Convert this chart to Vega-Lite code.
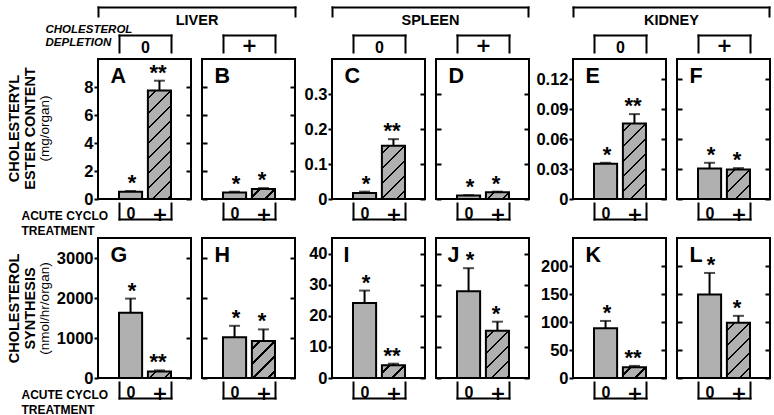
{
"$schema": "https://vega.github.io/schema/vega-lite/v6.json",
"padding": {"left": 5, "top": 4, "right": 4, "bottom": 2},
"bounds": "flush",
"columns": 8,
"spacing": {"row": 39, "column": 11},
"config": {
  "font": "Liberation Sans",
  "view": {"stroke": "black", "strokeWidth": 2},
  "axis": {"domain": false, "grid": false, "labelFont": "Liberation Sans", "labelFontWeight": "bold", "labelFontSize": 16, "labelColor": "black", "tickColor": "black", "tickWidth": 2, "domainColor": "black", "domainWidth": 2, "titleFont": "Liberation Sans", "titleFontWeight": "bold", "titleColor": "black", "titleFontSize": 14.5},
  "axisLeft": {"labelFontWeight": "bold", "labelFontSize": 16.5}
},
"concat": [
{
  "width": 93, "height": 140,
  "data": {"values": [{"cyclo": "0", "value": 0.52, "err": 0.57, "sig": "*"}, {"cyclo": "+", "value": 7.75, "err": 8.45, "sig": "**"}]},
  "resolve": {"scale": {"x": "independent", "y": "independent"}},
  "layer": [
    {"mark": {"type": "bar", "stroke": "black", "strokeWidth": 2},
     "encoding": {
       "x": {"field": "cyclo", "type": "nominal", "scale": {"domain": ["0", "+"], "range": [21, 73], "paddingInner": 0.2, "paddingOuter": 0},
             "axis": {"orient": "bottom", "offset": 20, "domain": true, "domainCap": "square", "tickBand": "extent", "tickSize": -16, "tickCap": "square", "tickOpacity": {"condition": {"test": "datum.index === 0", "value": 0}, "value": 1}, "labelAngle": 0, "labelFontSize": {"condition": {"test": "datum.value === '+'", "value": 19}, "value": 16}, "labelFont": {"condition": {"test": "datum.value === '+'", "value": "DejaVu Sans"}, "value": "Liberation Sans"}, "labelPadding": 2,
                      "title": ["ACUTE CYCLO", "TREATMENT"], "titleFontSize": 12, "titleX": -77, "titleY": 0, "titleAlign": "left", "titleBaseline": "alphabetic", "titleLineHeight": 15, "titleAngle": 0}},
       "y": {"field": "value", "type": "quantitative", "scale": {"domain": [0, 10], "nice": false},
             "axis": {"orient": "left", "values": [0, 2, 4, 6, 8], "format": "~r", "tickSize": 4, "labelPadding": 1,
                      "title": ["CHOLESTERYL", "ESTER CONTENT"], "titleX": -80, "titleY": 69, "titleAlign": "center", "titleBaseline": "alphabetic", "titleLineHeight": 16.5, "titleAngle": -90}},
       "fill": {"condition": {"test": "datum.cyclo === '+'", "value": {"gradient": "linear", "x1": 0, "y1": 0, "x2": 0.2472, "y2": 1.1603, "stops": [
         {"offset": 0, "color": "#b0b0b0"},
         {"offset": 0.0517, "color": "#b0b0b0"}, {"offset": 0.0517, "color": "black"}, {"offset": 0.0699, "color": "black"}, {"offset": 0.0699, "color": "#b0b0b0"},
         {"offset": 0.1657, "color": "#b0b0b0"}, {"offset": 0.1657, "color": "black"}, {"offset": 0.1839, "color": "black"}, {"offset": 0.1839, "color": "#b0b0b0"},
         {"offset": 0.2796, "color": "#b0b0b0"}, {"offset": 0.2796, "color": "black"}, {"offset": 0.2978, "color": "black"}, {"offset": 0.2978, "color": "#b0b0b0"},
         {"offset": 0.3936, "color": "#b0b0b0"}, {"offset": 0.3936, "color": "black"}, {"offset": 0.4118, "color": "black"}, {"offset": 0.4118, "color": "#b0b0b0"},
         {"offset": 0.5076, "color": "#b0b0b0"}, {"offset": 0.5076, "color": "black"}, {"offset": 0.5258, "color": "black"}, {"offset": 0.5258, "color": "#b0b0b0"},
         {"offset": 0.6215, "color": "#b0b0b0"}, {"offset": 0.6215, "color": "black"}, {"offset": 0.6397, "color": "black"}, {"offset": 0.6397, "color": "#b0b0b0"},
         {"offset": 0.7355, "color": "#b0b0b0"}, {"offset": 0.7355, "color": "black"}, {"offset": 0.7537, "color": "black"}, {"offset": 0.7537, "color": "#b0b0b0"},
         {"offset": 0.8495, "color": "#b0b0b0"}, {"offset": 0.8495, "color": "black"}, {"offset": 0.8677, "color": "black"}, {"offset": 0.8677, "color": "#b0b0b0"},
         {"offset": 0.9635, "color": "#b0b0b0"}, {"offset": 0.9635, "color": "black"}, {"offset": 0.9817, "color": "black"}, {"offset": 0.9817, "color": "#b0b0b0"},
         {"offset": 1, "color": "#b0b0b0"}]}}, "value": "#b0b0b0"}
     }},
    {"encoding": {
       "x": {"field": "cyclo", "type": "nominal", "scale": {"domain": ["0", "+"], "range": [21, 73], "paddingInner": 0.2, "paddingOuter": 0},
             "axis": {"orient": "top", "offset": 24, "domain": true, "domainCap": "square", "tickBand": "extent", "tickSize": -17, "tickCap": "square", "tickOpacity": {"condition": {"test": "datum.index === 0", "value": 0}, "value": 1}, "labels": false,
                      "title": "0", "titleFontSize": 16, "titleX": 47, "titleY": 17, "titleAlign": "center", "titleBaseline": "alphabetic", "titleAngle": 0}},
       "y": {"field": "err", "type": "quantitative", "scale": {"domain": [0, 10], "nice": false},
             "axis": {"orient": "right", "values": [0, 2, 4, 6, 8], "labels": false, "tickSize": -5,
                      "title": ["CHOLESTEROL", "DEPLETION"], "titleFontSize": 11.5, "titleFontStyle": "italic", "titleX": -146, "titleY": -27, "titleAlign": "left", "titleBaseline": "alphabetic", "titleLineHeight": 13.5, "titleAngle": 0}}},
     "layer": [
       {"mark": {"type": "rule", "color": "black", "strokeWidth": 2}, "encoding": {"y2": {"field": "value"}}},
       {"mark": {"type": "tick", "color": "black", "thickness": 2, "size": 11}}
     ]},
    {"mark": {"type": "text", "font": "Liberation Sans", "fontSize": 22, "fontWeight": "bold", "baseline": "alphabetic", "dy": -1, "color": "black"},
     "encoding": {
       "x": {"field": "cyclo", "type": "nominal", "scale": {"domain": ["0", "+"], "range": [21, 73], "paddingInner": 0.2, "paddingOuter": 0},
             "axis": {"orient": "top", "labels": false, "ticks": false, "domain": false, "title": "A", "titleFontSize": 21.5, "titleX": 12, "titleY": 23, "titleAlign": "left", "titleBaseline": "alphabetic", "titleAngle": 0}},
       "y": {"field": "err", "type": "quantitative", "scale": {"domain": [0, 10], "nice": false},
             "axis": {"orient": "left", "labels": false, "ticks": false, "domain": false, "title": "(mg/organ)", "titleFontWeight": "normal", "titleFontSize": 13.5, "titleX": -50, "titleY": 69, "titleAlign": "center", "titleBaseline": "alphabetic", "titleAngle": -90}},
       "text": {"field": "sig"}}},
    {"data": {"values": [{"organ": "LIVER"}]},
     "mark": {"type": "point", "opacity": 0},
     "encoding": {"x": {"field": "organ", "type": "nominal", "scale": {"domain": ["LIVER"], "range": [0, 197], "paddingInner": 0, "paddingOuter": 0},
       "axis": {"orient": "top", "offset": 52, "domain": true, "domainCap": "square", "tickBand": "extent", "tickSize": -9, "tickCap": "square", "labels": false, "title": "LIVER", "titleFontSize": 14.5, "titleX": 98.5, "titleY": 17.5, "titleAlign": "center", "titleBaseline": "alphabetic", "titleAngle": 0}}}}
  ]
},
{
  "width": 93, "height": 140,
  "data": {"values": [{"cyclo": "0", "value": 0.47, "err": 0.52, "sig": "*"}, {"cyclo": "+", "value": 0.72, "err": 0.78, "sig": "*"}]},
  "resolve": {"scale": {"x": "independent", "y": "independent"}},
  "layer": [
    {"mark": {"type": "bar", "stroke": "black", "strokeWidth": 2},
     "encoding": {
       "x": {"field": "cyclo", "type": "nominal", "scale": {"domain": ["0", "+"], "range": [21, 73], "paddingInner": 0.2, "paddingOuter": 0},
             "axis": {"orient": "bottom", "offset": 20, "domain": true, "domainCap": "square", "tickBand": "extent", "tickSize": -16, "tickCap": "square", "tickOpacity": {"condition": {"test": "datum.index === 0", "value": 0}, "value": 1}, "labelAngle": 0, "labelFontSize": {"condition": {"test": "datum.value === '+'", "value": 19}, "value": 16}, "labelFont": {"condition": {"test": "datum.value === '+'", "value": "DejaVu Sans"}, "value": "Liberation Sans"}, "labelPadding": 2, "title": null}},
       "y": {"field": "value", "type": "quantitative", "scale": {"domain": [0, 10], "nice": false},
             "axis": {"orient": "left", "values": [0, 2, 4, 6, 8], "labels": false, "tickSize": -5, "title": null}},
       "fill": {"condition": {"test": "datum.cyclo === '+'", "value": {"gradient": "linear", "x1": 0, "y1": 0, "x2": 1.2066, "y2": 0.5263, "stops": [
         {"offset": 0, "color": "#b0b0b0"},
         {"offset": 0.2048, "color": "#b0b0b0"}, {"offset": 0.2048, "color": "black"}, {"offset": 0.2772, "color": "black"}, {"offset": 0.2772, "color": "#b0b0b0"},
         {"offset": 0.6568, "color": "#b0b0b0"}, {"offset": 0.6568, "color": "black"}, {"offset": 0.7292, "color": "black"}, {"offset": 0.7292, "color": "#b0b0b0"},
         {"offset": 1, "color": "#b0b0b0"}]}}, "value": "#b0b0b0"}
     }},
    {"encoding": {
       "x": {"field": "cyclo", "type": "nominal", "scale": {"domain": ["0", "+"], "range": [21, 73], "paddingInner": 0.2, "paddingOuter": 0},
             "axis": {"orient": "top", "offset": 24, "domain": true, "domainCap": "square", "tickBand": "extent", "tickSize": -17, "tickCap": "square", "tickOpacity": {"condition": {"test": "datum.index === 0", "value": 0}, "value": 1}, "labels": false,
                      "title": "+", "titleFont": "DejaVu Sans", "titleFontSize": 19, "titleX": 47, "titleY": 16, "titleAlign": "center", "titleBaseline": "alphabetic", "titleAngle": 0}},
       "y": {"field": "err", "type": "quantitative", "scale": {"domain": [0, 10], "nice": false},
             "axis": {"orient": "right", "values": [0, 2, 4, 6, 8], "labels": false, "tickSize": -5, "title": null}}},
     "layer": [
       {"mark": {"type": "rule", "color": "black", "strokeWidth": 2}, "encoding": {"y2": {"field": "value"}}},
       {"mark": {"type": "tick", "color": "black", "thickness": 2, "size": 11}}
     ]},
    {"mark": {"type": "text", "font": "Liberation Sans", "fontSize": 22, "fontWeight": "bold", "baseline": "alphabetic", "dy": -1, "color": "black"},
     "encoding": {
       "x": {"field": "cyclo", "type": "nominal", "scale": {"domain": ["0", "+"], "range": [21, 73], "paddingInner": 0.2, "paddingOuter": 0},
             "axis": {"orient": "top", "labels": false, "ticks": false, "domain": false, "title": "B", "titleFontSize": 21.5, "titleX": 12, "titleY": 23, "titleAlign": "left", "titleBaseline": "alphabetic", "titleAngle": 0}},
       "y": {"field": "err", "type": "quantitative", "scale": {"domain": [0, 10], "nice": false}, "axis": null},
       "text": {"field": "sig"}}}
  ]
},
{"width": 15, "height": 140, "data": {"values": [{}]}, "mark": {"type": "point", "opacity": 0}, "view": {"stroke": null}},
{
  "width": 93, "height": 140,
  "data": {"values": [{"cyclo": "0", "value": 0.017, "err": 0.021, "sig": "*"}, {"cyclo": "+", "value": 0.152, "err": 0.171, "sig": "**"}]},
  "resolve": {"scale": {"x": "independent", "y": "independent"}},
  "layer": [
    {"mark": {"type": "bar", "stroke": "black", "strokeWidth": 2},
     "encoding": {
       "x": {"field": "cyclo", "type": "nominal", "scale": {"domain": ["0", "+"], "range": [21, 73], "paddingInner": 0.2, "paddingOuter": 0},
             "axis": {"orient": "bottom", "offset": 20, "domain": true, "domainCap": "square", "tickBand": "extent", "tickSize": -16, "tickCap": "square", "tickOpacity": {"condition": {"test": "datum.index === 0", "value": 0}, "value": 1}, "labelAngle": 0, "labelFontSize": {"condition": {"test": "datum.value === '+'", "value": 19}, "value": 16}, "labelFont": {"condition": {"test": "datum.value === '+'", "value": "DejaVu Sans"}, "value": "Liberation Sans"}, "labelPadding": 2, "title": null}},
       "y": {"field": "value", "type": "quantitative", "scale": {"domain": [0, 0.4], "nice": false},
             "axis": {"orient": "left", "values": [0, 0.1, 0.2, 0.3], "format": "~r", "tickSize": 4, "labelPadding": 1, "title": null}},
       "fill": {"condition": {"test": "datum.cyclo === '+'", "value": {"gradient": "linear", "x1": 0, "y1": 0, "x2": 0.5242, "y2": 1.2067, "stops": [
         {"offset": 0, "color": "#b0b0b0"},
         {"offset": 0.0891, "color": "#b0b0b0"}, {"offset": 0.0891, "color": "black"}, {"offset": 0.1205, "color": "black"}, {"offset": 0.1205, "color": "#b0b0b0"},
         {"offset": 0.2857, "color": "#b0b0b0"}, {"offset": 0.2857, "color": "black"}, {"offset": 0.3171, "color": "black"}, {"offset": 0.3171, "color": "#b0b0b0"},
         {"offset": 0.4823, "color": "#b0b0b0"}, {"offset": 0.4823, "color": "black"}, {"offset": 0.5137, "color": "black"}, {"offset": 0.5137, "color": "#b0b0b0"},
         {"offset": 0.6788, "color": "#b0b0b0"}, {"offset": 0.6788, "color": "black"}, {"offset": 0.7102, "color": "black"}, {"offset": 0.7102, "color": "#b0b0b0"},
         {"offset": 0.8754, "color": "#b0b0b0"}, {"offset": 0.8754, "color": "black"}, {"offset": 0.9068, "color": "black"}, {"offset": 0.9068, "color": "#b0b0b0"},
         {"offset": 1, "color": "#b0b0b0"}]}}, "value": "#b0b0b0"}
     }},
    {"encoding": {
       "x": {"field": "cyclo", "type": "nominal", "scale": {"domain": ["0", "+"], "range": [21, 73], "paddingInner": 0.2, "paddingOuter": 0},
             "axis": {"orient": "top", "offset": 24, "domain": true, "domainCap": "square", "tickBand": "extent", "tickSize": -17, "tickCap": "square", "tickOpacity": {"condition": {"test": "datum.index === 0", "value": 0}, "value": 1}, "labels": false,
                      "title": "0", "titleFontSize": 16, "titleX": 47, "titleY": 17, "titleAlign": "center", "titleBaseline": "alphabetic", "titleAngle": 0}},
       "y": {"field": "err", "type": "quantitative", "scale": {"domain": [0, 0.4], "nice": false},
             "axis": {"orient": "right", "values": [0, 0.1, 0.2, 0.3], "labels": false, "tickSize": -5, "title": null}}},
     "layer": [
       {"mark": {"type": "rule", "color": "black", "strokeWidth": 2}, "encoding": {"y2": {"field": "value"}}},
       {"mark": {"type": "tick", "color": "black", "thickness": 2, "size": 11}}
     ]},
    {"mark": {"type": "text", "font": "Liberation Sans", "fontSize": 22, "fontWeight": "bold", "baseline": "alphabetic", "dy": -1, "color": "black"},
     "encoding": {
       "x": {"field": "cyclo", "type": "nominal", "scale": {"domain": ["0", "+"], "range": [21, 73], "paddingInner": 0.2, "paddingOuter": 0},
             "axis": {"orient": "top", "labels": false, "ticks": false, "domain": false, "title": "C", "titleFontSize": 21.5, "titleX": 12, "titleY": 23, "titleAlign": "left", "titleBaseline": "alphabetic", "titleAngle": 0}},
       "y": {"field": "err", "type": "quantitative", "scale": {"domain": [0, 0.4], "nice": false}, "axis": null},
       "text": {"field": "sig"}}},
    {"data": {"values": [{"organ": "SPLEEN"}]},
     "mark": {"type": "point", "opacity": 0},
     "encoding": {"x": {"field": "organ", "type": "nominal", "scale": {"domain": ["SPLEEN"], "range": [0, 196], "paddingInner": 0, "paddingOuter": 0},
       "axis": {"orient": "top", "offset": 52, "domain": true, "domainCap": "square", "tickBand": "extent", "tickSize": -9, "tickCap": "square", "labels": false, "title": "SPLEEN", "titleFontSize": 14.5, "titleX": 98, "titleY": 17.5, "titleAlign": "center", "titleBaseline": "alphabetic", "titleAngle": 0}}}}
  ]
},
{
  "width": 93, "height": 140,
  "data": {"values": [{"cyclo": "0", "value": 0.0098, "err": 0.011, "sig": "*"}, {"cyclo": "+", "value": 0.019, "err": 0.021, "sig": "*"}]},
  "resolve": {"scale": {"x": "independent", "y": "independent"}},
  "layer": [
    {"mark": {"type": "bar", "stroke": "black", "strokeWidth": 2},
     "encoding": {
       "x": {"field": "cyclo", "type": "nominal", "scale": {"domain": ["0", "+"], "range": [21, 73], "paddingInner": 0.2, "paddingOuter": 0},
             "axis": {"orient": "bottom", "offset": 20, "domain": true, "domainCap": "square", "tickBand": "extent", "tickSize": -16, "tickCap": "square", "tickOpacity": {"condition": {"test": "datum.index === 0", "value": 0}, "value": 1}, "labelAngle": 0, "labelFontSize": {"condition": {"test": "datum.value === '+'", "value": 19}, "value": 16}, "labelFont": {"condition": {"test": "datum.value === '+'", "value": "DejaVu Sans"}, "value": "Liberation Sans"}, "labelPadding": 2, "title": null}},
       "y": {"field": "value", "type": "quantitative", "scale": {"domain": [0, 0.4], "nice": false},
             "axis": {"orient": "left", "values": [0, 0.1, 0.2, 0.3], "labels": false, "tickSize": -5, "title": null}},
       "fill": {"condition": {"test": "datum.cyclo === '+'", "value": {"gradient": "linear", "x1": 0, "y1": 0, "x2": 1.1893, "y2": 0.3422, "stops": [
         {"offset": 0, "color": "#b0b0b0"},
         {"offset": 0.2285, "color": "#b0b0b0"}, {"offset": 0.2285, "color": "black"}, {"offset": 0.3091, "color": "black"}, {"offset": 0.3091, "color": "#b0b0b0"},
         {"offset": 0.7325, "color": "#b0b0b0"}, {"offset": 0.7325, "color": "black"}, {"offset": 0.8131, "color": "black"}, {"offset": 0.8131, "color": "#b0b0b0"},
         {"offset": 1, "color": "#b0b0b0"}]}}, "value": "#b0b0b0"}
     }},
    {"encoding": {
       "x": {"field": "cyclo", "type": "nominal", "scale": {"domain": ["0", "+"], "range": [21, 73], "paddingInner": 0.2, "paddingOuter": 0},
             "axis": {"orient": "top", "offset": 24, "domain": true, "domainCap": "square", "tickBand": "extent", "tickSize": -17, "tickCap": "square", "tickOpacity": {"condition": {"test": "datum.index === 0", "value": 0}, "value": 1}, "labels": false,
                      "title": "+", "titleFont": "DejaVu Sans", "titleFontSize": 19, "titleX": 47, "titleY": 16, "titleAlign": "center", "titleBaseline": "alphabetic", "titleAngle": 0}},
       "y": {"field": "err", "type": "quantitative", "scale": {"domain": [0, 0.4], "nice": false},
             "axis": {"orient": "right", "values": [0, 0.1, 0.2, 0.3], "labels": false, "tickSize": -5, "title": null}}},
     "layer": [
       {"mark": {"type": "rule", "color": "black", "strokeWidth": 2}, "encoding": {"y2": {"field": "value"}}},
       {"mark": {"type": "tick", "color": "black", "thickness": 2, "size": 11}}
     ]},
    {"mark": {"type": "text", "font": "Liberation Sans", "fontSize": 22, "fontWeight": "bold", "baseline": "alphabetic", "dy": -1, "color": "black"},
     "encoding": {
       "x": {"field": "cyclo", "type": "nominal", "scale": {"domain": ["0", "+"], "range": [21, 73], "paddingInner": 0.2, "paddingOuter": 0},
             "axis": {"orient": "top", "labels": false, "ticks": false, "domain": false, "title": "D", "titleFontSize": 21.5, "titleX": 12, "titleY": 23, "titleAlign": "left", "titleBaseline": "alphabetic", "titleAngle": 0}},
       "y": {"field": "err", "type": "quantitative", "scale": {"domain": [0, 0.4], "nice": false}, "axis": null},
       "text": {"field": "sig"}}}
  ]
},
{"width": 22, "height": 140, "data": {"values": [{}]}, "mark": {"type": "point", "opacity": 0}, "view": {"stroke": null}},
{
  "width": 93, "height": 140,
  "data": {"values": [{"cyclo": "0", "value": 0.0352, "err": 0.0362, "sig": "*"}, {"cyclo": "+", "value": 0.0754, "err": 0.0849, "sig": "**"}]},
  "resolve": {"scale": {"x": "independent", "y": "independent"}},
  "layer": [
    {"mark": {"type": "bar", "stroke": "black", "strokeWidth": 2},
     "encoding": {
       "x": {"field": "cyclo", "type": "nominal", "scale": {"domain": ["0", "+"], "range": [21, 73], "paddingInner": 0.2, "paddingOuter": 0},
             "axis": {"orient": "bottom", "offset": 20, "domain": true, "domainCap": "square", "tickBand": "extent", "tickSize": -16, "tickCap": "square", "tickOpacity": {"condition": {"test": "datum.index === 0", "value": 0}, "value": 1}, "labelAngle": 0, "labelFontSize": {"condition": {"test": "datum.value === '+'", "value": 19}, "value": 16}, "labelFont": {"condition": {"test": "datum.value === '+'", "value": "DejaVu Sans"}, "value": "Liberation Sans"}, "labelPadding": 2, "title": null}},
       "y": {"field": "value", "type": "quantitative", "scale": {"domain": [0, 0.14], "nice": false},
             "axis": {"orient": "left", "values": [0, 0.03, 0.06, 0.09, 0.12], "format": "~r", "tickSize": 4, "labelPadding": 1, "title": null}},
       "fill": {"condition": {"test": "datum.cyclo === '+'", "value": {"gradient": "linear", "x1": 0, "y1": 0, "x2": 0.3661, "y2": 1.1943, "stops": [
         {"offset": 0, "color": "#b0b0b0"},
         {"offset": 0.0690, "color": "#b0b0b0"}, {"offset": 0.0690, "color": "black"}, {"offset": 0.0934, "color": "black"}, {"offset": 0.0934, "color": "#b0b0b0"},
         {"offset": 0.2213, "color": "#b0b0b0"}, {"offset": 0.2213, "color": "black"}, {"offset": 0.2457, "color": "black"}, {"offset": 0.2457, "color": "#b0b0b0"},
         {"offset": 0.3735, "color": "#b0b0b0"}, {"offset": 0.3735, "color": "black"}, {"offset": 0.3979, "color": "black"}, {"offset": 0.3979, "color": "#b0b0b0"},
         {"offset": 0.5258, "color": "#b0b0b0"}, {"offset": 0.5258, "color": "black"}, {"offset": 0.5502, "color": "black"}, {"offset": 0.5502, "color": "#b0b0b0"},
         {"offset": 0.6781, "color": "#b0b0b0"}, {"offset": 0.6781, "color": "black"}, {"offset": 0.7025, "color": "black"}, {"offset": 0.7025, "color": "#b0b0b0"},
         {"offset": 0.8304, "color": "#b0b0b0"}, {"offset": 0.8304, "color": "black"}, {"offset": 0.8548, "color": "black"}, {"offset": 0.8548, "color": "#b0b0b0"},
         {"offset": 1, "color": "#b0b0b0"}]}}, "value": "#b0b0b0"}
     }},
    {"encoding": {
       "x": {"field": "cyclo", "type": "nominal", "scale": {"domain": ["0", "+"], "range": [21, 73], "paddingInner": 0.2, "paddingOuter": 0},
             "axis": {"orient": "top", "offset": 24, "domain": true, "domainCap": "square", "tickBand": "extent", "tickSize": -17, "tickCap": "square", "tickOpacity": {"condition": {"test": "datum.index === 0", "value": 0}, "value": 1}, "labels": false,
                      "title": "0", "titleFontSize": 16, "titleX": 47, "titleY": 17, "titleAlign": "center", "titleBaseline": "alphabetic", "titleAngle": 0}},
       "y": {"field": "err", "type": "quantitative", "scale": {"domain": [0, 0.14], "nice": false},
             "axis": {"orient": "right", "values": [0, 0.03, 0.06, 0.09, 0.12], "labels": false, "tickSize": -5, "title": null}}},
     "layer": [
       {"mark": {"type": "rule", "color": "black", "strokeWidth": 2}, "encoding": {"y2": {"field": "value"}}},
       {"mark": {"type": "tick", "color": "black", "thickness": 2, "size": 11}}
     ]},
    {"mark": {"type": "text", "font": "Liberation Sans", "fontSize": 22, "fontWeight": "bold", "baseline": "alphabetic", "dy": -1, "color": "black"},
     "encoding": {
       "x": {"field": "cyclo", "type": "nominal", "scale": {"domain": ["0", "+"], "range": [21, 73], "paddingInner": 0.2, "paddingOuter": 0},
             "axis": {"orient": "top", "labels": false, "ticks": false, "domain": false, "title": "E", "titleFontSize": 21.5, "titleX": 12, "titleY": 23, "titleAlign": "left", "titleBaseline": "alphabetic", "titleAngle": 0}},
       "y": {"field": "err", "type": "quantitative", "scale": {"domain": [0, 0.14], "nice": false}, "axis": null},
       "text": {"field": "sig"}}},
    {"data": {"values": [{"organ": "KIDNEY"}]},
     "mark": {"type": "point", "opacity": 0},
     "encoding": {"x": {"field": "organ", "type": "nominal", "scale": {"domain": ["KIDNEY"], "range": [0, 196], "paddingInner": 0, "paddingOuter": 0},
       "axis": {"orient": "top", "offset": 52, "domain": true, "domainCap": "square", "tickBand": "extent", "tickSize": -9, "tickCap": "square", "labels": false, "title": "KIDNEY", "titleFontSize": 14.5, "titleX": 98, "titleY": 17.5, "titleAlign": "center", "titleBaseline": "alphabetic", "titleAngle": 0}}}}
  ]
},
{
  "width": 93, "height": 140,
  "data": {"values": [{"cyclo": "0", "value": 0.0306, "err": 0.0362, "sig": "*"}, {"cyclo": "+", "value": 0.0296, "err": 0.0309, "sig": "*"}]},
  "resolve": {"scale": {"x": "independent", "y": "independent"}},
  "layer": [
    {"mark": {"type": "bar", "stroke": "black", "strokeWidth": 2},
     "encoding": {
       "x": {"field": "cyclo", "type": "nominal", "scale": {"domain": ["0", "+"], "range": [21, 73], "paddingInner": 0.2, "paddingOuter": 0},
             "axis": {"orient": "bottom", "offset": 20, "domain": true, "domainCap": "square", "tickBand": "extent", "tickSize": -16, "tickCap": "square", "tickOpacity": {"condition": {"test": "datum.index === 0", "value": 0}, "value": 1}, "labelAngle": 0, "labelFontSize": {"condition": {"test": "datum.value === '+'", "value": 19}, "value": 16}, "labelFont": {"condition": {"test": "datum.value === '+'", "value": "DejaVu Sans"}, "value": "Liberation Sans"}, "labelPadding": 2, "title": null}},
       "y": {"field": "value", "type": "quantitative", "scale": {"domain": [0, 0.14], "nice": false},
             "axis": {"orient": "left", "values": [0, 0.03, 0.06, 0.09, 0.12], "labels": false, "tickSize": -5, "title": null}},
       "fill": {"condition": {"test": "datum.cyclo === '+'", "value": {"gradient": "linear", "x1": 0, "y1": 0, "x2": 0.8637, "y2": 1.1063, "stops": [
         {"offset": 0, "color": "#b0b0b0"},
         {"offset": 0.1290, "color": "#b0b0b0"}, {"offset": 0.1290, "color": "black"}, {"offset": 0.1746, "color": "black"}, {"offset": 0.1746, "color": "#b0b0b0"},
         {"offset": 0.4136, "color": "#b0b0b0"}, {"offset": 0.4136, "color": "black"}, {"offset": 0.4592, "color": "black"}, {"offset": 0.4592, "color": "#b0b0b0"},
         {"offset": 0.6981, "color": "#b0b0b0"}, {"offset": 0.6981, "color": "black"}, {"offset": 0.7437, "color": "black"}, {"offset": 0.7437, "color": "#b0b0b0"},
         {"offset": 1, "color": "#b0b0b0"}]}}, "value": "#b0b0b0"}
     }},
    {"encoding": {
       "x": {"field": "cyclo", "type": "nominal", "scale": {"domain": ["0", "+"], "range": [21, 73], "paddingInner": 0.2, "paddingOuter": 0},
             "axis": {"orient": "top", "offset": 24, "domain": true, "domainCap": "square", "tickBand": "extent", "tickSize": -17, "tickCap": "square", "tickOpacity": {"condition": {"test": "datum.index === 0", "value": 0}, "value": 1}, "labels": false,
                      "title": "+", "titleFont": "DejaVu Sans", "titleFontSize": 19, "titleX": 47, "titleY": 16, "titleAlign": "center", "titleBaseline": "alphabetic", "titleAngle": 0}},
       "y": {"field": "err", "type": "quantitative", "scale": {"domain": [0, 0.14], "nice": false},
             "axis": {"orient": "right", "values": [0, 0.03, 0.06, 0.09, 0.12], "labels": false, "tickSize": -5, "title": null}}},
     "layer": [
       {"mark": {"type": "rule", "color": "black", "strokeWidth": 2}, "encoding": {"y2": {"field": "value"}}},
       {"mark": {"type": "tick", "color": "black", "thickness": 2, "size": 11}}
     ]},
    {"mark": {"type": "text", "font": "Liberation Sans", "fontSize": 22, "fontWeight": "bold", "baseline": "alphabetic", "dy": -1, "color": "black"},
     "encoding": {
       "x": {"field": "cyclo", "type": "nominal", "scale": {"domain": ["0", "+"], "range": [21, 73], "paddingInner": 0.2, "paddingOuter": 0},
             "axis": {"orient": "top", "labels": false, "ticks": false, "domain": false, "title": "F", "titleFontSize": 21.5, "titleX": 12, "titleY": 23, "titleAlign": "left", "titleBaseline": "alphabetic", "titleAngle": 0}},
       "y": {"field": "err", "type": "quantitative", "scale": {"domain": [0, 0.14], "nice": false}, "axis": null},
       "text": {"field": "sig"}}}
  ]
},
{
  "width": 93, "height": 140,
  "data": {"values": [{"cyclo": "0", "value": 1630, "err": 1985, "sig": "*"}, {"cyclo": "+", "value": 160, "err": 190, "sig": "**"}]},
  "resolve": {"scale": {"x": "independent", "y": "independent"}},
  "layer": [
    {"mark": {"type": "bar", "stroke": "black", "strokeWidth": 2},
     "encoding": {
       "x": {"field": "cyclo", "type": "nominal", "scale": {"domain": ["0", "+"], "range": [21, 73], "paddingInner": 0.2, "paddingOuter": 0},
             "axis": {"orient": "bottom", "offset": 20, "domain": true, "domainCap": "square", "tickBand": "extent", "tickSize": -16, "tickCap": "square", "tickOpacity": {"condition": {"test": "datum.index === 0", "value": 0}, "value": 1}, "labelAngle": 0, "labelFontSize": {"condition": {"test": "datum.value === '+'", "value": 19}, "value": 16}, "labelFont": {"condition": {"test": "datum.value === '+'", "value": "DejaVu Sans"}, "value": "Liberation Sans"}, "labelPadding": 2,
                      "title": ["ACUTE CYCLO", "TREATMENT"], "titleFontSize": 12, "titleX": -77, "titleY": 0, "titleAlign": "left", "titleBaseline": "alphabetic", "titleLineHeight": 15, "titleAngle": 0}},
       "y": {"field": "value", "type": "quantitative", "scale": {"domain": [0, 3500], "nice": false},
             "axis": {"orient": "left", "values": [0, 1000, 2000, 3000], "format": "~r", "tickSize": 4, "labelPadding": 1,
                      "title": ["CHOLESTEROL", "SYNTHESIS"], "titleX": -80, "titleY": 70, "titleAlign": "center", "titleBaseline": "alphabetic", "titleLineHeight": 16.5, "titleAngle": -90}},
       "fill": {"condition": {"test": "datum.cyclo === '+'", "value": {"gradient": "linear", "x1": 0, "y1": 0, "x2": 1.1858, "y2": 0.3284, "stops": [
         {"offset": 0, "color": "#b0b0b0"},
         {"offset": 0.2304, "color": "#b0b0b0"}, {"offset": 0.2304, "color": "black"}, {"offset": 0.3118, "color": "black"}, {"offset": 0.3118, "color": "#b0b0b0"},
         {"offset": 0.7387, "color": "#b0b0b0"}, {"offset": 0.7387, "color": "black"}, {"offset": 0.8201, "color": "black"}, {"offset": 0.8201, "color": "#b0b0b0"},
         {"offset": 1, "color": "#b0b0b0"}]}}, "value": "#b0b0b0"}
     }},
    {"encoding": {
       "x": {"field": "cyclo", "type": "nominal", "scale": {"domain": ["0", "+"], "range": [21, 73], "paddingInner": 0.2, "paddingOuter": 0}, "axis": null},
       "y": {"field": "err", "type": "quantitative", "scale": {"domain": [0, 3500], "nice": false},
             "axis": {"orient": "right", "values": [0, 1000, 2000, 3000], "labels": false, "tickSize": -5, "title": null}}},
     "layer": [
       {"mark": {"type": "rule", "color": "black", "strokeWidth": 2}, "encoding": {"y2": {"field": "value"}}},
       {"mark": {"type": "tick", "color": "black", "thickness": 2, "size": 11}}
     ]},
    {"mark": {"type": "text", "font": "Liberation Sans", "fontSize": 22, "fontWeight": "bold", "baseline": "alphabetic", "dy": -1, "color": "black"},
     "encoding": {
       "x": {"field": "cyclo", "type": "nominal", "scale": {"domain": ["0", "+"], "range": [21, 73], "paddingInner": 0.2, "paddingOuter": 0},
             "axis": {"orient": "top", "labels": false, "ticks": false, "domain": false, "title": "G", "titleFontSize": 21.5, "titleX": 12, "titleY": 23, "titleAlign": "left", "titleBaseline": "alphabetic", "titleAngle": 0}},
       "y": {"field": "err", "type": "quantitative", "scale": {"domain": [0, 3500], "nice": false},
             "axis": {"orient": "left", "labels": false, "ticks": false, "domain": false, "title": "(nmol/hr/organ)", "titleFontWeight": "normal", "titleFontSize": 13.5, "titleX": -50, "titleY": 70, "titleAlign": "center", "titleBaseline": "alphabetic", "titleAngle": -90}},
       "text": {"field": "sig"}}}
  ]
},
{
  "width": 93, "height": 140,
  "data": {"values": [{"cyclo": "0", "value": 1020, "err": 1305, "sig": "*"}, {"cyclo": "+", "value": 927, "err": 1215, "sig": "*"}]},
  "resolve": {"scale": {"x": "independent", "y": "independent"}},
  "layer": [
    {"mark": {"type": "bar", "stroke": "black", "strokeWidth": 2},
     "encoding": {
       "x": {"field": "cyclo", "type": "nominal", "scale": {"domain": ["0", "+"], "range": [21, 73], "paddingInner": 0.2, "paddingOuter": 0},
             "axis": {"orient": "bottom", "offset": 20, "domain": true, "domainCap": "square", "tickBand": "extent", "tickSize": -16, "tickCap": "square", "tickOpacity": {"condition": {"test": "datum.index === 0", "value": 0}, "value": 1}, "labelAngle": 0, "labelFontSize": {"condition": {"test": "datum.value === '+'", "value": 19}, "value": 16}, "labelFont": {"condition": {"test": "datum.value === '+'", "value": "DejaVu Sans"}, "value": "Liberation Sans"}, "labelPadding": 2, "title": null}},
       "y": {"field": "value", "type": "quantitative", "scale": {"domain": [0, 3500], "nice": false},
             "axis": {"orient": "left", "values": [0, 1000, 2000, 3000], "labels": false, "tickSize": -5, "title": null}},
       "fill": {"condition": {"test": "datum.cyclo === '+'", "value": {"gradient": "linear", "x1": 0, "y1": 0, "x2": 0.7287, "y2": 1.1691, "stops": [
         {"offset": 0, "color": "#b0b0b0"},
         {"offset": 0.1130, "color": "#b0b0b0"}, {"offset": 0.1130, "color": "black"}, {"offset": 0.1528, "color": "black"}, {"offset": 0.1528, "color": "#b0b0b0"},
         {"offset": 0.3622, "color": "#b0b0b0"}, {"offset": 0.3622, "color": "black"}, {"offset": 0.4020, "color": "black"}, {"offset": 0.4020, "color": "#b0b0b0"},
         {"offset": 0.6114, "color": "#b0b0b0"}, {"offset": 0.6114, "color": "black"}, {"offset": 0.6512, "color": "black"}, {"offset": 0.6512, "color": "#b0b0b0"},
         {"offset": 0.8606, "color": "#b0b0b0"}, {"offset": 0.8606, "color": "black"}, {"offset": 0.9004, "color": "black"}, {"offset": 0.9004, "color": "#b0b0b0"},
         {"offset": 1, "color": "#b0b0b0"}]}}, "value": "#b0b0b0"}
     }},
    {"encoding": {
       "x": {"field": "cyclo", "type": "nominal", "scale": {"domain": ["0", "+"], "range": [21, 73], "paddingInner": 0.2, "paddingOuter": 0}, "axis": null},
       "y": {"field": "err", "type": "quantitative", "scale": {"domain": [0, 3500], "nice": false},
             "axis": {"orient": "right", "values": [0, 1000, 2000, 3000], "labels": false, "tickSize": -5, "title": null}}},
     "layer": [
       {"mark": {"type": "rule", "color": "black", "strokeWidth": 2}, "encoding": {"y2": {"field": "value"}}},
       {"mark": {"type": "tick", "color": "black", "thickness": 2, "size": 11}}
     ]},
    {"mark": {"type": "text", "font": "Liberation Sans", "fontSize": 22, "fontWeight": "bold", "baseline": "alphabetic", "dy": -1, "color": "black"},
     "encoding": {
       "x": {"field": "cyclo", "type": "nominal", "scale": {"domain": ["0", "+"], "range": [21, 73], "paddingInner": 0.2, "paddingOuter": 0},
             "axis": {"orient": "top", "labels": false, "ticks": false, "domain": false, "title": "H", "titleFontSize": 21.5, "titleX": 12, "titleY": 23, "titleAlign": "left", "titleBaseline": "alphabetic", "titleAngle": 0}},
       "y": {"field": "err", "type": "quantitative", "scale": {"domain": [0, 3500], "nice": false}, "axis": null},
       "text": {"field": "sig"}}}
  ]
},
{"width": 15, "height": 140, "data": {"values": [{}]}, "mark": {"type": "point", "opacity": 0}, "view": {"stroke": null}},
{
  "width": 93, "height": 140,
  "data": {"values": [{"cyclo": "0", "value": 24.1, "err": 28.1, "sig": "*"}, {"cyclo": "+", "value": 4.1, "err": 4.6, "sig": "**"}]},
  "resolve": {"scale": {"x": "independent", "y": "independent"}},
  "layer": [
    {"mark": {"type": "bar", "stroke": "black", "strokeWidth": 2},
     "encoding": {
       "x": {"field": "cyclo", "type": "nominal", "scale": {"domain": ["0", "+"], "range": [21, 73], "paddingInner": 0.2, "paddingOuter": 0},
             "axis": {"orient": "bottom", "offset": 20, "domain": true, "domainCap": "square", "tickBand": "extent", "tickSize": -16, "tickCap": "square", "tickOpacity": {"condition": {"test": "datum.index === 0", "value": 0}, "value": 1}, "labelAngle": 0, "labelFontSize": {"condition": {"test": "datum.value === '+'", "value": 19}, "value": 16}, "labelFont": {"condition": {"test": "datum.value === '+'", "value": "DejaVu Sans"}, "value": "Liberation Sans"}, "labelPadding": 2, "title": null}},
       "y": {"field": "value", "type": "quantitative", "scale": {"domain": [0, 45], "nice": false},
             "axis": {"orient": "left", "values": [0, 10, 20, 30, 40], "format": "~r", "tickSize": 4, "labelPadding": 1, "title": null}},
       "fill": {"condition": {"test": "datum.cyclo === '+'", "value": {"gradient": "linear", "x1": 0, "y1": 0, "x2": 1.1895, "y2": 0.6568, "stops": [
         {"offset": 0, "color": "#b0b0b0"},
         {"offset": 0.1895, "color": "#b0b0b0"}, {"offset": 0.1895, "color": "black"}, {"offset": 0.2565, "color": "black"}, {"offset": 0.2565, "color": "#b0b0b0"},
         {"offset": 0.6077, "color": "#b0b0b0"}, {"offset": 0.6077, "color": "black"}, {"offset": 0.6747, "color": "black"}, {"offset": 0.6747, "color": "#b0b0b0"},
         {"offset": 1, "color": "#b0b0b0"}]}}, "value": "#b0b0b0"}
     }},
    {"encoding": {
       "x": {"field": "cyclo", "type": "nominal", "scale": {"domain": ["0", "+"], "range": [21, 73], "paddingInner": 0.2, "paddingOuter": 0}, "axis": null},
       "y": {"field": "err", "type": "quantitative", "scale": {"domain": [0, 45], "nice": false},
             "axis": {"orient": "right", "values": [0, 10, 20, 30, 40], "labels": false, "tickSize": -5, "title": null}}},
     "layer": [
       {"mark": {"type": "rule", "color": "black", "strokeWidth": 2}, "encoding": {"y2": {"field": "value"}}},
       {"mark": {"type": "tick", "color": "black", "thickness": 2, "size": 11}}
     ]},
    {"mark": {"type": "text", "font": "Liberation Sans", "fontSize": 22, "fontWeight": "bold", "baseline": "alphabetic", "dy": -1, "color": "black"},
     "encoding": {
       "x": {"field": "cyclo", "type": "nominal", "scale": {"domain": ["0", "+"], "range": [21, 73], "paddingInner": 0.2, "paddingOuter": 0},
             "axis": {"orient": "top", "labels": false, "ticks": false, "domain": false, "title": "I", "titleFontSize": 21.5, "titleX": 11, "titleY": 23, "titleAlign": "left", "titleBaseline": "alphabetic", "titleAngle": 0}},
       "y": {"field": "err", "type": "quantitative", "scale": {"domain": [0, 45], "nice": false}, "axis": null},
       "text": {"field": "sig"}}}
  ]
},
{
  "width": 93, "height": 140,
  "data": {"values": [{"cyclo": "0", "value": 27.9, "err": 35.3, "sig": "*"}, {"cyclo": "+", "value": 15.2, "err": 18.1, "sig": "*"}]},
  "resolve": {"scale": {"x": "independent", "y": "independent"}},
  "layer": [
    {"mark": {"type": "bar", "stroke": "black", "strokeWidth": 2},
     "encoding": {
       "x": {"field": "cyclo", "type": "nominal", "scale": {"domain": ["0", "+"], "range": [21, 73], "paddingInner": 0.2, "paddingOuter": 0},
             "axis": {"orient": "bottom", "offset": 20, "domain": true, "domainCap": "square", "tickBand": "extent", "tickSize": -16, "tickCap": "square", "tickOpacity": {"condition": {"test": "datum.index === 0", "value": 0}, "value": 1}, "labelAngle": 0, "labelFontSize": {"condition": {"test": "datum.value === '+'", "value": 19}, "value": 16}, "labelFont": {"condition": {"test": "datum.value === '+'", "value": "DejaVu Sans"}, "value": "Liberation Sans"}, "labelPadding": 2, "title": null}},
       "y": {"field": "value", "type": "quantitative", "scale": {"domain": [0, 45], "nice": false},
             "axis": {"orient": "left", "values": [0, 10, 20, 30, 40], "labels": false, "tickSize": -5, "title": null}},
       "fill": {"condition": {"test": "datum.cyclo === '+'", "value": {"gradient": "linear", "x1": 0, "y1": 0, "x2": 0.5873, "y2": 1.2017, "stops": [
         {"offset": 0, "color": "#b0b0b0"},
         {"offset": 0.0966, "color": "#b0b0b0"}, {"offset": 0.0966, "color": "black"}, {"offset": 0.1306, "color": "black"}, {"offset": 0.1306, "color": "#b0b0b0"},
         {"offset": 0.3097, "color": "#b0b0b0"}, {"offset": 0.3097, "color": "black"}, {"offset": 0.3437, "color": "black"}, {"offset": 0.3437, "color": "#b0b0b0"},
         {"offset": 0.5228, "color": "#b0b0b0"}, {"offset": 0.5228, "color": "black"}, {"offset": 0.5568, "color": "black"}, {"offset": 0.5568, "color": "#b0b0b0"},
         {"offset": 0.7358, "color": "#b0b0b0"}, {"offset": 0.7358, "color": "black"}, {"offset": 0.7698, "color": "black"}, {"offset": 0.7698, "color": "#b0b0b0"},
         {"offset": 0.9489, "color": "#b0b0b0"}, {"offset": 0.9489, "color": "black"}, {"offset": 0.9829, "color": "black"}, {"offset": 0.9829, "color": "#b0b0b0"},
         {"offset": 1, "color": "#b0b0b0"}]}}, "value": "#b0b0b0"}
     }},
    {"encoding": {
       "x": {"field": "cyclo", "type": "nominal", "scale": {"domain": ["0", "+"], "range": [21, 73], "paddingInner": 0.2, "paddingOuter": 0}, "axis": null},
       "y": {"field": "err", "type": "quantitative", "scale": {"domain": [0, 45], "nice": false},
             "axis": {"orient": "right", "values": [0, 10, 20, 30, 40], "labels": false, "tickSize": -5, "title": null}}},
     "layer": [
       {"mark": {"type": "rule", "color": "black", "strokeWidth": 2}, "encoding": {"y2": {"field": "value"}}},
       {"mark": {"type": "tick", "color": "black", "thickness": 2, "size": 11}}
     ]},
    {"mark": {"type": "text", "font": "Liberation Sans", "fontSize": 22, "fontWeight": "bold", "baseline": "alphabetic", "dy": -1, "color": "black"},
     "encoding": {
       "x": {"field": "cyclo", "type": "nominal", "scale": {"domain": ["0", "+"], "range": [21, 73], "paddingInner": 0.2, "paddingOuter": 0},
             "axis": {"orient": "top", "labels": false, "ticks": false, "domain": false, "title": "J", "titleFontSize": 21.5, "titleX": 11, "titleY": 23, "titleAlign": "left", "titleBaseline": "alphabetic", "titleAngle": 0}},
       "y": {"field": "err", "type": "quantitative", "scale": {"domain": [0, 45], "nice": false}, "axis": null},
       "text": {"field": "sig"}}}
  ]
},
{"width": 22, "height": 140, "data": {"values": [{}]}, "mark": {"type": "point", "opacity": 0}, "view": {"stroke": null}},
{
  "width": 93, "height": 140,
  "data": {"values": [{"cyclo": "0", "value": 88.7, "err": 101.9, "sig": "*"}, {"cyclo": "+", "value": 19.2, "err": 21.6, "sig": "**"}]},
  "resolve": {"scale": {"x": "independent", "y": "independent"}},
  "layer": [
    {"mark": {"type": "bar", "stroke": "black", "strokeWidth": 2},
     "encoding": {
       "x": {"field": "cyclo", "type": "nominal", "scale": {"domain": ["0", "+"], "range": [21, 73], "paddingInner": 0.2, "paddingOuter": 0},
             "axis": {"orient": "bottom", "offset": 20, "domain": true, "domainCap": "square", "tickBand": "extent", "tickSize": -16, "tickCap": "square", "tickOpacity": {"condition": {"test": "datum.index === 0", "value": 0}, "value": 1}, "labelAngle": 0, "labelFontSize": {"condition": {"test": "datum.value === '+'", "value": 19}, "value": 16}, "labelFont": {"condition": {"test": "datum.value === '+'", "value": "DejaVu Sans"}, "value": "Liberation Sans"}, "labelPadding": 2, "title": null}},
       "y": {"field": "value", "type": "quantitative", "scale": {"domain": [0, 250], "nice": false},
             "axis": {"orient": "left", "values": [0, 50, 100, 150, 200], "format": "~r", "tickSize": 4, "labelPadding": 1, "title": null}},
       "fill": {"condition": {"test": "datum.cyclo === '+'", "value": {"gradient": "linear", "x1": 0, "y1": 0, "x2": 1.2044, "y2": 0.5602, "stops": [
         {"offset": 0, "color": "#b0b0b0"},
         {"offset": 0.2009, "color": "#b0b0b0"}, {"offset": 0.2009, "color": "black"}, {"offset": 0.2717, "color": "black"}, {"offset": 0.2717, "color": "#b0b0b0"},
         {"offset": 0.6439, "color": "#b0b0b0"}, {"offset": 0.6439, "color": "black"}, {"offset": 0.7147, "color": "black"}, {"offset": 0.7147, "color": "#b0b0b0"},
         {"offset": 1, "color": "#b0b0b0"}]}}, "value": "#b0b0b0"}
     }},
    {"encoding": {
       "x": {"field": "cyclo", "type": "nominal", "scale": {"domain": ["0", "+"], "range": [21, 73], "paddingInner": 0.2, "paddingOuter": 0}, "axis": null},
       "y": {"field": "err", "type": "quantitative", "scale": {"domain": [0, 250], "nice": false},
             "axis": {"orient": "right", "values": [0, 50, 100, 150, 200], "labels": false, "tickSize": -5, "title": null}}},
     "layer": [
       {"mark": {"type": "rule", "color": "black", "strokeWidth": 2}, "encoding": {"y2": {"field": "value"}}},
       {"mark": {"type": "tick", "color": "black", "thickness": 2, "size": 11}}
     ]},
    {"mark": {"type": "text", "font": "Liberation Sans", "fontSize": 22, "fontWeight": "bold", "baseline": "alphabetic", "dy": -1, "color": "black"},
     "encoding": {
       "x": {"field": "cyclo", "type": "nominal", "scale": {"domain": ["0", "+"], "range": [21, 73], "paddingInner": 0.2, "paddingOuter": 0},
             "axis": {"orient": "top", "labels": false, "ticks": false, "domain": false, "title": "K", "titleFontSize": 21.5, "titleX": 12, "titleY": 23, "titleAlign": "left", "titleBaseline": "alphabetic", "titleAngle": 0}},
       "y": {"field": "err", "type": "quantitative", "scale": {"domain": [0, 250], "nice": false}, "axis": null},
       "text": {"field": "sig"}}}
  ]
},
{
  "width": 93, "height": 140,
  "data": {"values": [{"cyclo": "0", "value": 149, "err": 187.6, "sig": "*"}, {"cyclo": "+", "value": 98.8, "err": 111, "sig": "*"}]},
  "resolve": {"scale": {"x": "independent", "y": "independent"}},
  "layer": [
    {"mark": {"type": "bar", "stroke": "black", "strokeWidth": 2},
     "encoding": {
       "x": {"field": "cyclo", "type": "nominal", "scale": {"domain": ["0", "+"], "range": [21, 73], "paddingInner": 0.2, "paddingOuter": 0},
             "axis": {"orient": "bottom", "offset": 20, "domain": true, "domainCap": "square", "tickBand": "extent", "tickSize": -16, "tickCap": "square", "tickOpacity": {"condition": {"test": "datum.index === 0", "value": 0}, "value": 1}, "labelAngle": 0, "labelFontSize": {"condition": {"test": "datum.value === '+'", "value": 19}, "value": 16}, "labelFont": {"condition": {"test": "datum.value === '+'", "value": "DejaVu Sans"}, "value": "Liberation Sans"}, "labelPadding": 2, "title": null}},
       "y": {"field": "value", "type": "quantitative", "scale": {"domain": [0, 250], "nice": false},
             "axis": {"orient": "left", "values": [0, 50, 100, 150, 200], "labels": false, "tickSize": -5, "title": null}},
       "fill": {"condition": {"test": "datum.cyclo === '+'", "value": {"gradient": "linear", "x1": 0, "y1": 0, "x2": 0.5042, "y2": 1.2071, "stops": [
         {"offset": 0, "color": "#b0b0b0"},
         {"offset": 0.0867, "color": "#b0b0b0"}, {"offset": 0.0867, "color": "black"}, {"offset": 0.1173, "color": "black"}, {"offset": 0.1173, "color": "#b0b0b0"},
         {"offset": 0.2779, "color": "#b0b0b0"}, {"offset": 0.2779, "color": "black"}, {"offset": 0.3085, "color": "black"}, {"offset": 0.3085, "color": "#b0b0b0"},
         {"offset": 0.4691, "color": "#b0b0b0"}, {"offset": 0.4691, "color": "black"}, {"offset": 0.4997, "color": "black"}, {"offset": 0.4997, "color": "#b0b0b0"},
         {"offset": 0.6604, "color": "#b0b0b0"}, {"offset": 0.6604, "color": "black"}, {"offset": 0.6910, "color": "black"}, {"offset": 0.6910, "color": "#b0b0b0"},
         {"offset": 0.8516, "color": "#b0b0b0"}, {"offset": 0.8516, "color": "black"}, {"offset": 0.8822, "color": "black"}, {"offset": 0.8822, "color": "#b0b0b0"},
         {"offset": 1, "color": "#b0b0b0"}]}}, "value": "#b0b0b0"}
     }},
    {"encoding": {
       "x": {"field": "cyclo", "type": "nominal", "scale": {"domain": ["0", "+"], "range": [21, 73], "paddingInner": 0.2, "paddingOuter": 0}, "axis": null},
       "y": {"field": "err", "type": "quantitative", "scale": {"domain": [0, 250], "nice": false},
             "axis": {"orient": "right", "values": [0, 50, 100, 150, 200], "labels": false, "tickSize": -5, "title": null}}},
     "layer": [
       {"mark": {"type": "rule", "color": "black", "strokeWidth": 2}, "encoding": {"y2": {"field": "value"}}},
       {"mark": {"type": "tick", "color": "black", "thickness": 2, "size": 11}}
     ]},
    {"mark": {"type": "text", "font": "Liberation Sans", "fontSize": 22, "fontWeight": "bold", "baseline": "alphabetic", "dy": -1, "color": "black"},
     "encoding": {
       "x": {"field": "cyclo", "type": "nominal", "scale": {"domain": ["0", "+"], "range": [21, 73], "paddingInner": 0.2, "paddingOuter": 0},
             "axis": {"orient": "top", "labels": false, "ticks": false, "domain": false, "title": "L", "titleFontSize": 21.5, "titleX": 12, "titleY": 23, "titleAlign": "left", "titleBaseline": "alphabetic", "titleAngle": 0}},
       "y": {"field": "err", "type": "quantitative", "scale": {"domain": [0, 250], "nice": false}, "axis": null},
       "text": {"field": "sig"}}}
  ]
}
]
}
